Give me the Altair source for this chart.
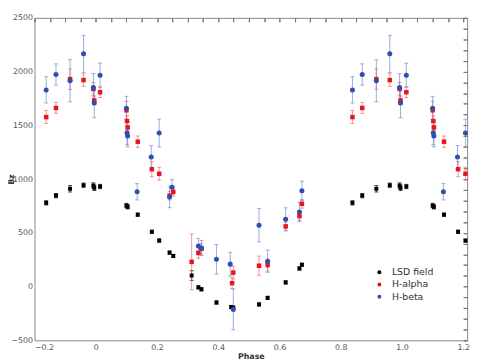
import altair as alt
import pandas as pd
import numpy as np

# ---- data ----
lsd_phase = [-0.162, -0.130, -0.084, -0.040, -0.008, -0.005, 0.014, 0.100, 0.104, 0.137, 0.183, 0.207,
             0.241, 0.253, 0.313, 0.335, 0.345, 0.394, 0.442, 0.449, 0.533, 0.561, 0.620, 0.665, 0.673]
lsd_val = [779, 846, 910, 943, 940, 919, 931, 754, 742, 669, 510, 428,
           316, 285, 103, -7, -25, -148, -190, -196, -166, -105, 39, 169, 203]
lsd_err = [20, 20, 30, 20, 25, 25, 20, 20, 20, 15, 15, 15,
           15, 15, 45, 15, 15, 15, 15, 15, 15, 15, 15, 15, 15]

ha_phase = [-0.162, -0.130, -0.084, -0.040, -0.008, -0.005, 0.014, 0.100, 0.102, 0.104, 0.137, 0.183, 0.207,
            0.241, 0.253, 0.313, 0.335, 0.345, 0.445, 0.449, 0.533, 0.561, 0.620, 0.665, 0.673]
ha_val = [1577, 1662, 1930, 1921, 1839, 1732, 1808, 1640, 1540, 1480, 1348, 1092, 1050,
          846, 882, 230, 313, 352, 32, 130, 194, 200, 560, 656, 770]
ha_err = [60, 50, 95, 58, 60, 40, 49, 84, 50, 50, 53, 70, 60,
          40, 40, 260, 50, 50, 50, 60, 90, 55, 40, 40, 40]

hb_phase = [-0.162, -0.130, -0.084, -0.040, -0.008, -0.005, 0.014, 0.100, 0.102, 0.104, 0.135, 0.181, 0.207,
            0.241, 0.249, 0.335, 0.345, 0.394, 0.439, 0.449, 0.533, 0.561, 0.620, 0.665, 0.673]
hb_val = [1830, 1973, 1915, 2165, 1851, 1708, 1967, 1660, 1430, 1400, 882, 1205, 1428,
          834, 925, 377, 359, 254, 209, -212, 571, 236, 626, 693, 891]
hb_err = [122, 99, 196, 172, 130, 137, 111, 110, 110, 100, 76, 107, 130,
          100, 70, 70, 70, 137, 110, 190, 155, 103, 107, 90, 90]

series_names = ["LSD field", "H-alpha", "H-beta"]
series_colors = ["#000000", "#e8161c", "#2f4fb0"]
err_colors = ["#000000", "#f06a6a", "#7488d0"]
x_domain = [-0.2, 1.2125]
y_domain = [-500, 2500]

# build table, folding phases (shift by one cycle to cover the shown range)
rows = []
for name, ph, va, er in [("LSD field", lsd_phase, lsd_val, lsd_err),
                         ("H-alpha", ha_phase, ha_val, ha_err),
                         ("H-beta", hb_phase, hb_val, hb_err)]:
    for p, v, e in zip(ph, va, er):
        for shift in (0, 1):
            q = p + shift
            if x_domain[0] <= q <= x_domain[1]:
                rows.append({"series": name, "phase": q, "val": v, "lo": v - e, "hi": v + e})
df = pd.DataFrame(rows)

font = "DejaVu Sans"
xs = alt.Scale(domain=x_domain, nice=False, zero=False)
ys = alt.Scale(domain=y_domain, nice=False, zero=False)

x_major = [round(v, 2) for v in np.arange(-0.2, 1.21, 0.2)]
x_minor = [round(v, 3) for v in np.arange(-0.2, 1.2126, 0.05)]
y_major = list(range(-500, 2501, 500))
y_minor = list(range(-500, 2501, 100))

base = alt.Chart(df)

# labelled axes (bottom/left)
ax_labels = base.mark_point(opacity=0).encode(
    x=alt.X("phase:Q", scale=xs, axis=alt.Axis(values=x_major, title="Phase", ticks=False, domain=False,
                                               grid=False, labelPadding=3, titlePadding=1,
                                               labelExpr="datum.value == 0 ? '0' : format(datum.value, '.1f')")),
    y=alt.Y("val:Q", scale=ys, axis=alt.Axis(values=y_major, title="Bz", ticks=False, domain=False,
                                            grid=False, labelPadding=2, format="d",
                                            titleX=-23, titleY=164, titleAngle=270,
                                            titleAlign="center", titleBaseline="middle")),
)
# inward ticks bottom/left
ax_ticks1 = base.mark_point(opacity=0).encode(
    x=alt.X("phase:Q", scale=xs, axis=alt.Axis(values=x_minor, title=None, labels=False, domain=False,
                                               grid=False, offset=-4, tickSize=4, tickColor="#777")),
    y=alt.Y("val:Q", scale=ys, axis=alt.Axis(values=y_minor, title=None, labels=False, domain=False,
                                            grid=False, offset=-4, tickSize=4, tickColor="#777")),
)
# inward ticks top/right
ax_ticks2 = base.mark_point(opacity=0).encode(
    x=alt.X("phase:Q", scale=xs, axis=alt.Axis(orient="top", values=x_minor, title=None, labels=False,
                                               domain=False, grid=False, offset=-4, tickSize=4, tickColor="#777")),
    y=alt.Y("val:Q", scale=ys, axis=alt.Axis(orient="right", values=y_minor, title=None, labels=False,
                                            domain=False, grid=False, offset=-4, tickSize=4, tickColor="#777")),
)

errbars = base.mark_errorbar(ticks=alt.TickConfig(size=4), thickness=1, opacity=0.7).encode(
    x=alt.X("phase:Q", scale=xs, axis=None),
    y=alt.Y("lo:Q", scale=ys, axis=None, title=None),
    y2="hi:Q",
    color=alt.Color("series:N", scale=alt.Scale(domain=series_names, range=err_colors), legend=None),
)

points = base.mark_point(filled=True, opacity=1).encode(
    x=alt.X("phase:Q", scale=xs, axis=None),
    y=alt.Y("val:Q", scale=ys, axis=None),
    color=alt.Color("series:N", scale=alt.Scale(domain=series_names, range=series_colors),
                    sort=series_names,
                    legend=alt.Legend(title=None, orient="none", legendX=346, legendY=254,
                                      labelFont=font, labelFontSize=9.5, labelColor="#333",
                                      symbolSize=16, rowPadding=1.5, labelOffset=8)),
    shape=alt.Shape("series:N", scale=alt.Scale(domain=series_names, range=["square", "square", "circle"]),
                    legend=None),
    size=alt.Size("series:N", scale=alt.Scale(domain=series_names, range=[16, 26, 20]), legend=None),
)

chart = alt.layer(ax_labels, ax_ticks1, ax_ticks2, errbars, points).resolve_axis(
    x="independent", y="independent"
).resolve_scale(color="independent").properties(
    width=440, height=328,
    autosize=alt.AutoSizeParams(type="none"),
    padding={"left": 27, "top": 7, "right": 8, "bottom": 19},
).configure_view(stroke="#888", strokeWidth=1).configure_axis(
    labelFont=font, labelFontSize=8, labelColor="#555",
    titleFont=font, titleFontSize=8, titleColor="#333", titleFontWeight="bold",
)

chart.save("out.html", embed_options={"renderer": "svg", "actions": False})
